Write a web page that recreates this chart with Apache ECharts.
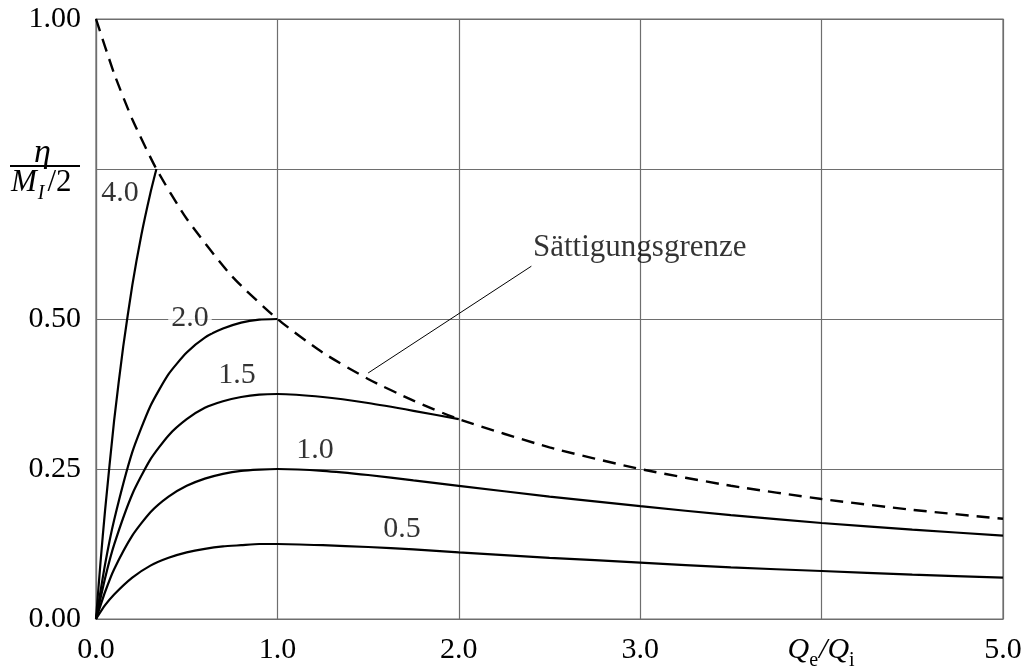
<!DOCTYPE html>
<html>
<head>
<meta charset="utf-8">
<title>Sättigungsgrenze</title>
<script src="https://cdn.jsdelivr.net/npm/echarts@6/dist/echarts.min.js"></script>
<style>
  html, body { margin: 0; padding: 0; background: #fff; }
  #chart { width: 1029px; height: 671px; }
</style>
</head>
<body>
<div id="chart"></div>
<script>
// x values (Qe/Qi) used for the curves
const xCurve = [0, 0.05, 0.1, 0.2, 0.3, 0.4, 0.5, 0.6, 0.7, 0.8, 0.9, 1, 1.25, 1.5, 1.75, 2, 2.5, 3, 3.5, 4, 4.5, 5];
const curve05 = [0, 0.023, 0.041, 0.069, 0.089, 0.102, 0.111, 0.117, 0.121, 0.123, 0.125, 0.125, 0.123, 0.120, 0.116, 0.111, 0.102, 0.094, 0.086, 0.080, 0.074, 0.069];
const curve10 = [0, 0.045, 0.083, 0.139, 0.178, 0.204, 0.222, 0.234, 0.242, 0.247, 0.249, 0.250, 0.247, 0.240, 0.231, 0.222, 0.204, 0.188, 0.173, 0.160, 0.149, 0.139];
// 1.5 stops at x = 2, 2.0 stops at x = 1 (on the limit line)
const curve15 = [0, 0.068, 0.124, 0.208, 0.266, 0.306, 0.333, 0.352, 0.363, 0.370, 0.374, 0.375, 0.370, 0.360, 0.347, 0.333];
const curve20 = [0, 0.091, 0.165, 0.278, 0.355, 0.408, 0.444, 0.469, 0.484, 0.494, 0.499, 0.500];
// steep curve 4.0
const x40 = [0, 0.025, 0.05, 0.1, 0.15, 0.2, 0.25, 0.3, 0.333];
const curve40 = [0, 0.095, 0.181, 0.331, 0.454, 0.556, 0.640, 0.710, 0.750];
// saturation limit (dashed)
const xLimit = [0, 0.1, 0.2, 0.333, 0.5, 0.75, 1, 1.25, 1.5, 1.75, 2, 2.5, 3, 3.5, 4, 4.5, 5];
const limit = [1, 0.909, 0.833, 0.75, 0.667, 0.571, 0.5, 0.444, 0.4, 0.364, 0.333, 0.286, 0.25, 0.222, 0.2, 0.182, 0.167];

const xTicks = ["0.0", "1.0", "2.0", "3.0", "{q|Q}{s|e}{q|/Q}{s|i}", "5.0"];
const yTicks = ["0.00", "0.25", "0.50", "", "1.00"];

const curveNames = ["0.5", "1.0", "1.5", "2.0", "4.0"];
const curveLabelPos = [[1.687, 0.149], [1.207, 0.281], [0.777, 0.407], [0.518, 0.502], [0.132, 0.709]];
const leader = [[1.5, 0.41], [2.40, 0.588]];

const font = "Liberation Serif";

function pairs(xs, ys) {
  return ys.map((y, i) => [xs[i], y]);
}

function curve(name, data) {
  return {
    name: name,
    type: "line",
    data: data,
    smooth: 0.2,
    showSymbol: false,
    lineStyle: { color: "#000", width: 2.2 },
    z: 3
  };
}

let chart = echarts.init(document.getElementById("chart"));

chart.setOption({
  animation: false,
  backgroundColor: "#fff",
  textStyle: { fontFamily: font },
  grid: {
    left: 96,
    right: 26,
    top: 19,
    bottom: 48,
    show: true,
    borderColor: "#6e6e6e",
    borderWidth: 1.2
  },
  xAxis: {
    type: "value",
    min: 0,
    max: 5,
    interval: 1,
    axisLine: { lineStyle: { color: "#6e6e6e", width: 1.2 } },
    axisTick: { show: false },
    splitLine: { lineStyle: { color: "#6e6e6e", width: 1.2 } },
    axisLabel: {
      color: "#000",
      fontFamily: font,
      fontSize: 30,
      margin: 16,
      formatter: v => xTicks[Math.round(v)],
      rich: {
        q: { fontFamily: font, fontSize: 30, fontStyle: "italic", color: "#000" },
        s: { fontFamily: font, fontSize: 20, color: "#000", verticalAlign: "bottom", padding: [0, 1, -6, 0] }
      }
    }
  },
  yAxis: {
    type: "value",
    min: 0,
    max: 1,
    interval: 0.25,
    axisLine: { show: true, lineStyle: { color: "#6e6e6e", width: 1.2 } },
    axisTick: { show: false },
    splitLine: { lineStyle: { color: "#6e6e6e", width: 1.2 } },
    axisLabel: {
      color: "#000",
      fontFamily: font,
      fontSize: 30,
      margin: 15,
      formatter: v => yTicks[Math.round(v * 4)]
    }
  },
  graphic: [
    {
      type: "text",
      left: 34,
      top: 136,
      style: { text: "η", font: "italic 34px " + font, fill: "#000" }
    },
    {
      type: "line",
      shape: { x1: 10, y1: 166, x2: 80, y2: 166 },
      style: { stroke: "#000", lineWidth: 2 }
    },
    {
      type: "text",
      left: 11,
      top: 167,
      style: {
        text: "{m|M}{s|I}{n|/2}",
        rich: {
          m: { fontFamily: font, fontSize: 31, fontStyle: "italic", fill: "#000" },
          s: { fontFamily: font, fontSize: 20, fontStyle: "italic", fill: "#000", verticalAlign: "bottom", padding: [0, 3, -6, 1] },
          n: { fontFamily: font, fontSize: 31, fill: "#000" }
        }
      }
    }
  ],
  series: [
    {
      name: "Sättigungsgrenze",
      type: "line",
      data: pairs(xLimit, limit),
      smooth: 0.2,
      showSymbol: false,
      lineStyle: { color: "#000", width: 2.4, type: [13, 8] },
      z: 4
    },
    curve("0.5", pairs(xCurve, curve05)),
    curve("1.0", pairs(xCurve, curve10)),
    curve("1.5", pairs(xCurve, curve15)),
    curve("2.0", pairs(xCurve, curve20)),
    curve("4.0", pairs(x40, curve40)),
    {
      name: "leader",
      type: "line",
      data: leader,
      showSymbol: false,
      lineStyle: { color: "#000", width: 1 },
      z: 4
    },
    {
      name: "labels",
      type: "scatter",
      symbolSize: 0,
      z: 5,
      label: {
        show: true,
        position: "inside",
        color: "#000",
        fontFamily: font,
        fontSize: 30,
        formatter: p => p.data.name
      },
      data: curveNames.map((n, i) => {
        let item = { name: n, value: curveLabelPos[i] };
        if (n === "2.0") {
          item.label = { backgroundColor: "#fff", padding: [0, 3] };
        }
        return item;
      }).concat([{
        name: "Sättigungsgrenze",
        value: [2.409, 0.618],
        label: { position: "right", distance: 0, fontSize: 31 }
      }])
    }
  ]
});
</script>
</body>
</html>
